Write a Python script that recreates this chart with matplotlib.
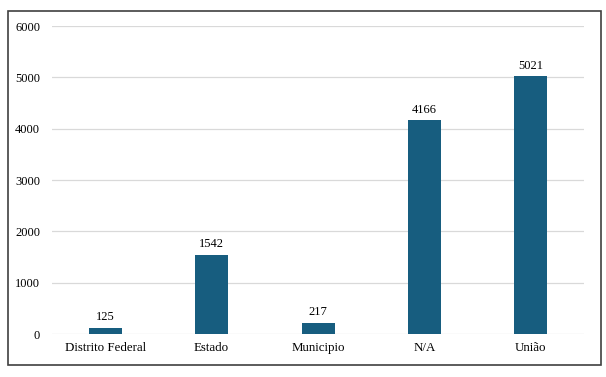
import matplotlib
matplotlib.use("Agg")
import matplotlib.pyplot as plt
from matplotlib.patches import Rectangle

categorias = ["Distrito Federal", "Estado", "Municipio", "N/A", "União"]
valores = [125, 1542, 217, 4166, 5021]

plt.rcParams['font.family'] = ['Liberation Serif', 'DejaVu Serif']

fig = plt.figure(figsize=(6.06, 3.77), dpi=100)
ax = fig.add_axes([0.0858, 0.114, 0.878, 0.817])

# moldura em volta do grafico
fig.patches.append(Rectangle((0.0132, 0.0318), 0.9785, 0.939, transform=fig.transFigure,
                             fill=False, edgecolor='#404040', linewidth=1.2))

x = range(len(categorias))
barras = ax.bar(x, valores, width=0.31, color='#175d7f', zorder=3)
for xi, v in zip(x, valores):
    ax.text(xi, v + 90, str(v), ha='center', va='bottom', fontsize=9)

ax.set_xlim(-0.5, 4.5)
ax.set_ylim(0, 6000)
ax.set_yticks(range(0, 6001, 1000))
ax.set_xticks(list(x))
ax.set_xticklabels(categorias, fontsize=9.3)
ax.tick_params(axis='y', labelsize=9, length=0, pad=8.5)
ax.tick_params(axis='x', length=0, pad=6)
ax.grid(axis='y', color='#d9d9d9', linewidth=0.9, zorder=0)
for s in ax.spines.values():
    s.set_visible(False)

fig.savefig("out.png", dpi=100)
